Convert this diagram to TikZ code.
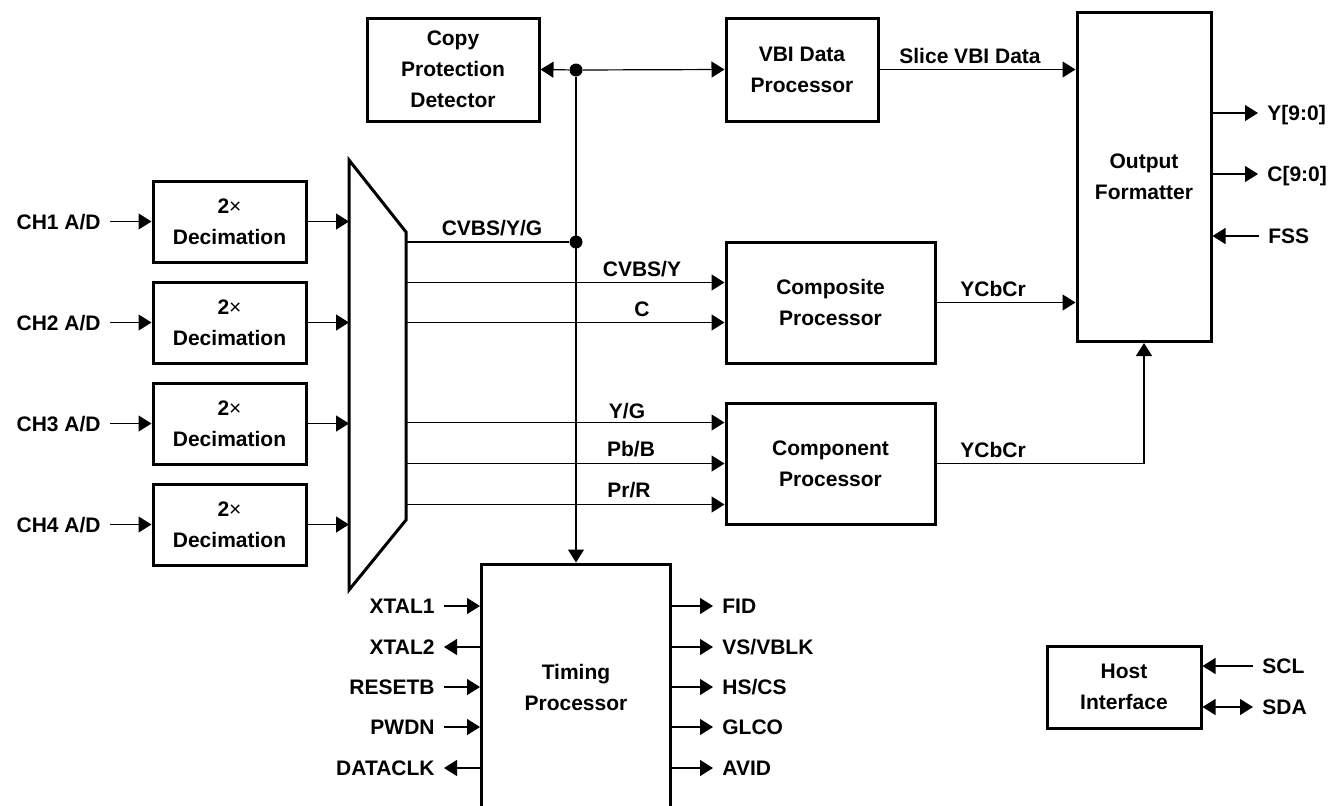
\documentclass[tikz,border=0pt]{standalone}
\usepackage{fontspec}
\setmainfont{Liberation Sans}
\usetikzlibrary{positioning,arrows.meta}

\begin{document}
\begin{tikzpicture}[x=0.5pt,y=-0.5pt,>={Triangle[length=6.5pt,width=8pt]}]
    \tikzstyle{every node}=[font=\fontsize{10.5}{15.5}\selectfont\bfseries]
    \tikzstyle{block}=[draw,line width=1.5pt,rectangle,align=center,inner sep=0]
    \tikzstyle{note}=[inner sep=0]
    \tikzstyle{sig}=[inner xsep=4.5pt,inner ysep=0,text height=7.5pt,text depth=0pt]
    \tikzstyle{junction}=[fill,circle,inner sep=0,minimum size=6.5pt]
    \tikzstyle{wire}=[line width=0.6pt]
    \useasboundingbox (0,0) rectangle (1335,805);
    \clip (0,0) rectangle (1335,805);
    {
        % blocks
        \node[block,minimum width=86pt,minimum height=51.5pt] (cpd) at (453,69.5) {Copy\\Protection\\Detector};
        \node[block,minimum width=76pt,minimum height=51.5pt] (vbi) at (802,69.5) {VBI Data\\Processor};
        \node[block,minimum width=67pt,minimum height=164.5pt] (fmt) at (1144,177) {Output\\Formatter};
        \node[block,minimum width=104.5pt,minimum height=60.5pt] (comp) at (830.5,302.5) {Composite\\Processor};
        \node[block,minimum width=104.5pt,minimum height=60.5pt] (cpt) at (830.5,463.5) {Component\\Processor};
        \node[block,minimum width=94.5pt,minimum height=123pt] (tim) at (576,687) {Timing\\Processor};
        \node[block,minimum width=77pt,minimum height=41pt] (host) at (1124,687) {Host\\Interface};

        % selector
        \draw[line width=1.5pt] (349,160) -- (406,232) -- (406,520) -- (349,590) -- cycle;
        \coordinate (muxw) at (349,0);
        \coordinate (muxe) at (406,0);

        \foreach \i/\y in {1/221.5,2/322.5,3/423.5,4/524.5} {
            \node[block,minimum width=76.5pt,minimum height=40.5pt] (dec\i) at (229.5,\y) {2{\mdseries ×}\\Decimation};
            \node[sig,anchor=east] (ch\i) at (110,\y) {CH\i\ A/D};
            \path[->,wire] (ch\i) edge (dec\i.west)
                (dec\i.east) edge (dec\i.east -| muxw);
        }

        \node[junction] (j1) at (576,70) {};
        \node[junction] (j2) at (576,242) {};

        \coordinate (cvbsy) at ([yshift=10pt]comp.west);
        \coordinate (chroma) at ([yshift=-10pt]comp.west);
        \coordinate (yg) at ([yshift=20.5pt]cpt.west);
        \coordinate (pbb) at (cpt.west);
        \coordinate (prr) at ([yshift=-20.5pt]cpt.west);

        % labels on the lines
        \node[note,anchor=base] (lcvbsyg) at (492,235) {CVBS/Y/G};
        \node[note,anchor=base] (lcvbsy) at (642,276) {CVBS/Y};
        \node[note,anchor=base] (lchroma) at (642,316) {C};
        \node[note,anchor=base] (lyg) at (627,418) {Y/G};
        \node[note,anchor=base] (lpbb) at (631,456) {Pb/B};
        \node[note,anchor=base] (lprr) at (629,497) {Pr/R};
        \node[note,anchor=base] (lslice) at (970,63) {Slice VBI Data};
        \node[note,anchor=base] (lycc1) at (993,296) {YCbCr};
        \node[note,anchor=base] (lycc2) at (993,457) {YCbCr};

        % pins
        \node[sig,anchor=west] (y90) at (1258,113) {Y[9:0]};
        \node[sig,anchor=west] (c90) at (1258,174) {C[9:0]};
        \node[sig,anchor=west] (fss) at (1259,236) {FSS};
        \node[sig,anchor=west] (scl) at (1253,666) {SCL};
        \node[sig,anchor=west] (sda) at (1253,707) {SDA};

        \node[sig,anchor=east] (xtal1) at (444,606) {XTAL1};
        \node[sig,anchor=east] (xtal2) at (444,647) {XTAL2};
        \node[sig,anchor=east] (resetb) at (444,687) {RESETB};
        \node[sig,anchor=east] (pwdn) at (444,727) {PWDN};
        \node[sig,anchor=east] (dataclk) at (444,768) {DATACLK};
        \node[sig,anchor=west] (fid) at (713,606) {FID};
        \node[sig,anchor=west] (vsvblk) at (713,647) {VS/VBLK};
        \node[sig,anchor=west] (hscs) at (713,687) {HS/CS};
        \node[sig,anchor=west] (glco) at (713,727) {GLCO};
        \node[sig,anchor=west] (avid) at (713,768) {AVID};

        \path[wire]
            (j2 -| muxe) edge (j2);

        \path[->,wire]
            (j1) edge (cpd.east)
            (j1) edge (vbi.west)
            (j1) edge (tim.north)
            (cvbsy -| muxe) edge (cvbsy)
            (chroma -| muxe) edge (chroma)
            (yg -| muxe) edge (yg)
            (pbb -| muxe) edge (pbb)
            (prr -| muxe) edge (prr)
            (vbi.east) edge (vbi.east -| fmt.west)
            (comp.east) edge (comp.east -| fmt.west)
            (y90 -| fmt.east) edge (y90)
            (c90 -| fmt.east) edge (c90)
            (fss) edge (fss -| fmt.east)
            (scl) edge (scl -| host.east)
            (sda) edge[<->] (sda -| host.east)
            (xtal1) edge (xtal1 -| tim.west)
            (xtal2 -| tim.west) edge (xtal2)
            (resetb) edge (resetb -| tim.west)
            (pwdn) edge (pwdn -| tim.west)
            (dataclk -| tim.west) edge (dataclk)
            (fid -| tim.east) edge (fid)
            (vsvblk -| tim.east) edge (vsvblk)
            (hscs -| tim.east) edge (hscs)
            (glco -| tim.east) edge (glco)
            (avid -| tim.east) edge (avid);

        \draw[->,wire] (cpt.east) -| (fmt.south);
    }
\end{tikzpicture}
\end{document}
